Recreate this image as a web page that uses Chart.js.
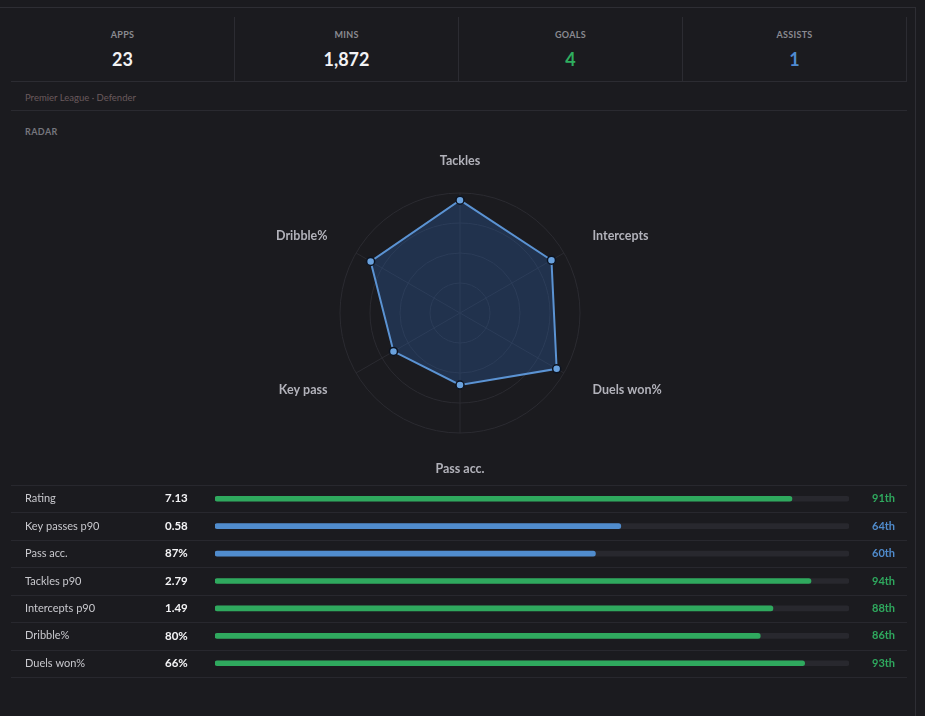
<!DOCTYPE html>
<html>
<head>
<meta charset="utf-8">
<script src="https://cdn.jsdelivr.net/npm/chart.js@4.4.1/dist/chart.umd.min.js"></script>
<style>
  html, body { margin: 0; padding: 0; background: #1b1b1f; width: 925px; height: 716px; overflow: hidden; font-family: Lato, "Noto Sans", sans-serif; }
  .frame { position: absolute; left: -2px; top: 7px; width: 917px; height: 720px; border-top: 1px solid #2e2e34; border-right: 1px solid #2e2e34; }
  .stats { position: absolute; left: 11px; top: 17px; width: 896px; height: 65px; display: flex; }
  .cell { flex: 1; border-right: 1px solid #2c2c32; border-bottom: 1px solid #2c2c32; text-align: center; position: relative; }
  .cell .lab { position: absolute; left: 0; right: 0; top: 12px; font-size: 9px; font-weight: bold; color: #8a8a91; letter-spacing: 0.3px; line-height: 12px; }
  .cell .val { position: absolute; left: 0; right: 0; top: 31px; font-size: 18px; font-weight: bold; color: #f2f2f4; line-height: 22px; }
  .sub { position: absolute; left: 25px; top: 92px; font-size: 9.5px; color: #6a5a5d; line-height: 12px; }
  .hr { position: absolute; left: 11px; width: 896px; height: 1px; background: #2a2a30; }
  .sec { position: absolute; left: 25px; top: 126px; font-size: 9px; font-weight: bold; color: #76767d; letter-spacing: 0.4px; line-height: 12px; }
  #radarBox { position: absolute; left: 0; top: 153px; width: 920px; height: 320px; }
  #barBox { position: absolute; left: 11px; top: 485px; width: 896px; height: 193px; }
</style>
</head>
<body>
<div class="frame"></div>
<div class="stats" id="stats"></div>
<div class="sub">Premier League · Defender</div>
<div class="hr" style="top:110px"></div>
<div class="sec">RADAR</div>
<div id="radarBox"><canvas id="radar"></canvas></div>
<div id="barBox"><canvas id="bars"></canvas></div>
<script>
// ---- Data ----
const statLabels = ['APPS', 'MINS', 'GOALS', 'ASSISTS'];
const statValues = ['23', '1,872', '4', '1'];
const statColors = ['#f2f2f4', '#f2f2f4', '#2fae5f', '#4f8ad0'];

const radarLabels = ['Tackles', 'Intercepts', 'Duels won%', 'Pass acc.', 'Key pass', 'Dribble%'];
const radarValues = [94, 88, 93, 60, 64, 86];

const rowLabels = ['Rating', 'Key passes p90', 'Pass acc.', 'Tackles p90', 'Intercepts p90', 'Dribble%', 'Duels won%'];
const rowValues = ['7.13', '0.58', '87%', '2.79', '1.49', '80%', '66%'];
const rowPercentiles = [91, 64, 60, 94, 88, 86, 93];
const rowPctLabels = ['91th', '64th', '60th', '94th', '88th', '86th', '93th'];
const trackMax = [100, 100, 100, 100, 100, 100, 100];

const GREEN = '#2fa95e';
const BLUE = '#508ccd';
const rowColors = rowPercentiles.map(p => p >= 70 ? GREEN : BLUE);

// ---- Stats row ----
const statsEl = document.getElementById('stats');
statLabels.forEach((l, i) => {
  const c = document.createElement('div');
  c.className = 'cell';
  c.innerHTML = '<div class="lab">' + l + '</div><div class="val" style="color:' + statColors[i] + '">' + statValues[i] + '</div>';
  statsEl.appendChild(c);
});

// ---- Radar ----
new Chart(document.getElementById('radar'), {
  type: 'radar',
  data: {
    labels: radarLabels,
    datasets: [{
      data: radarValues,
      borderColor: '#5b93d3',
      backgroundColor: 'rgba(48,98,175,0.32)',
      borderWidth: 2,
      pointRadius: 4,
      pointBackgroundColor: '#6aa2de',
      pointBorderColor: '#0c1320',
      pointBorderWidth: 1.5,
      fill: true
    }]
  },
  options: {
    responsive: true,
    maintainAspectRatio: false,
    animation: false,
    layout: { padding: 0 },
    plugins: { legend: { display: false }, tooltip: { enabled: false } },
    scales: {
      r: {
        min: 0, max: 100,
        ticks: { display: false, stepSize: 25 },
        grid: { circular: true, color: '#2b2b31', lineWidth: 1 },
        angleLines: { color: '#2b2b31', lineWidth: 1 },
        pointLabels: {
          color: '#b2b2ba',
          padding: (c) => c.index === 0 ? 25 : (c.index === 3 ? 31 : 33),
          font: (c) => ({
            family: 'Lato', size: 12.5, weight: 'bold',
            lineHeight: c.index === 0 ? 1.2 : (c.index === 3 ? 0.72 : 0.1)
          })
        }
      }
    }
  }
});

// ---- Percentile bars ----
const rowTextPlugin = {
  id: 'rowText',
  beforeDatasetsDraw(chart) {
    const ctx = chart.ctx;
    const y = chart.scales.y;
    const area = chart.chartArea;
    const w = chart.width;
    ctx.save();
    ctx.strokeStyle = '#28282e';
    ctx.lineWidth = 1;
    const bounds = [area.top];
    for (let i = 0; i < rowLabels.length - 1; i++) {
      bounds.push((y.getPixelForValue(i) + y.getPixelForValue(i + 1)) / 2);
    }
    bounds.push(area.bottom);
    bounds.forEach(b => {
      const yy = Math.round(b) + 0.5;
      ctx.beginPath(); ctx.moveTo(0, yy); ctx.lineTo(w, yy); ctx.stroke();
    });
    ctx.restore();
  },
  afterDraw(chart) {
    const ctx = chart.ctx;
    const y = chart.scales.y;
    const x = chart.scales.x;
    ctx.save();
    ctx.textBaseline = 'middle';
    ctx.textAlign = 'left';
    rowLabels.forEach((lab, i) => {
      const yy = y.getPixelForValue(i);
      ctx.font = '11px Lato';
      ctx.fillStyle = '#c9c9ce';
      ctx.fillText(lab, 14, yy);
      ctx.font = 'bold 11.5px Lato';
      ctx.fillStyle = '#f4f4f6';
      ctx.fillText(rowValues[i], 154, yy);
      ctx.fillStyle = rowColors[i];
      ctx.font = 'bold 11px Lato';
      ctx.fillText(rowPctLabels[i], x.getPixelForValue(100) + 23, yy);
    });
    ctx.restore();
  }
};

new Chart(document.getElementById('bars'), {
  type: 'bar',
  data: {
    labels: rowLabels,
    datasets: [
      {
        data: rowPercentiles,
        backgroundColor: rowColors,
        barThickness: 5,
        borderRadius: 3,
        borderSkipped: false,
        grouped: false,
        order: 1
      },
      {
        data: trackMax,
        backgroundColor: '#28282e',
        barThickness: 5,
        borderRadius: 3,
        borderSkipped: false,
        grouped: false,
        order: 2
      }
    ]
  },
  options: {
    indexAxis: 'y',
    responsive: true,
    maintainAspectRatio: false,
    animation: false,
    layout: { padding: { left: 204, right: 58, top: 0, bottom: 1 } },
    plugins: { legend: { display: false }, tooltip: { enabled: false } },
    scales: {
      x: { display: false, min: 0, max: 100 },
      y: { display: false }
    }
  },
  plugins: [rowTextPlugin]
});
</script>
</body>
</html>
